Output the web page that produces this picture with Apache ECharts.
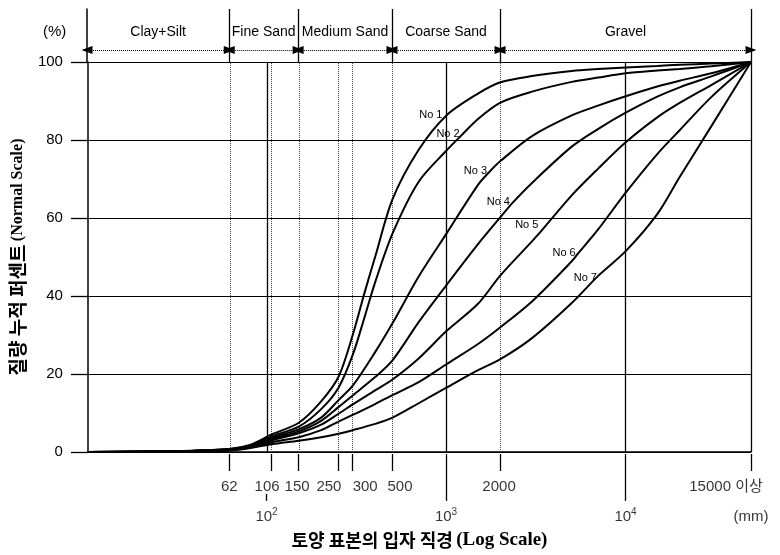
<!DOCTYPE html>
<html><head><meta charset="utf-8">
<script src="https://cdn.jsdelivr.net/npm/echarts@6/dist/echarts.min.js"></script>
<style>html,body{margin:0;padding:0;background:#fff}#c{width:780px;height:555px}</style>
</head><body><div id="c"></div>
<script>
// ---------- data ----------
const curveNames = ['No 1', 'No 2', 'No 3', 'No 4', 'No 5', 'No 6', 'No 7'];
// [particle size on the figure's log axis, cumulative mass %]
const no1 = [[10,0],[30,0.2],[62,0.8],[80,1.8],[106,4.5],[150,7.5],[200,13],[250,19.3],[300,30],[350,41],[400,50],[500,64.8],[700,77.5],[1000,86.3],[1500,91.9],[2000,94.8],[3000,96.4],[5000,97.7],[7000,98.2],[10000,98.6],[15000,99],[20000,99.3],[30000,99.6],[50000,100]];
const no2 = [[10,0],[30,0.2],[62,0.8],[80,1.6],[106,4],[150,6.5],[200,11],[250,16.5],[300,24.9],[350,34.7],[400,43.5],[500,56],[700,69.3],[1000,77.3],[1200,81],[1500,85.4],[2000,89.6],[3000,92.4],[5000,94.9],[7000,96],[10000,97.1],[15000,97.8],[20000,98.2],[30000,98.9],[50000,100]];
const no3 = [[10,0],[30,0.2],[62,0.7],[80,1.4],[106,3.6],[150,5.8],[200,8.8],[250,13.3],[300,17],[400,25.6],[500,33],[700,45],[1000,56],[1500,68.5],[1750,72],[2000,74.6],[3000,81],[5000,86.3],[7000,88.8],[10000,91.2],[15000,93.7],[20000,95.2],[30000,97.1],[50000,100]];
const no4 = [[10,0],[30,0.2],[62,0.6],[80,1.3],[106,3.3],[150,5.3],[200,8],[250,11.5],[300,14.5],[400,19.2],[500,23.5],[700,33.3],[1000,42.8],[1500,53.3],[2000,60.2],[2350,64],[3000,69],[5000,78.3],[7000,82.8],[10000,87],[15000,91.1],[20000,93.5],[30000,96.3],[50000,100]];
const no5 = [[10,0],[30,0.2],[62,0.6],[80,1.2],[106,3],[150,4.8],[200,7],[250,9.8],[300,12.2],[400,15.8],[500,18.6],[700,24],[1000,31],[1500,38],[2000,45.3],[3000,54],[3300,56.1],[5000,65.8],[7000,72.6],[10000,79.4],[15000,85.8],[20000,89.5],[30000,94.1],[50000,100]];
const no6 = [[10,0],[30,0.2],[62,0.5],[80,1.1],[106,2.5],[150,3.8],[200,5.6],[250,7.8],[300,9.5],[400,12.3],[500,14.6],[700,17.9],[1000,22.5],[1500,27.7],[2000,32],[3000,38.6],[5000,48.9],[5400,50.8],[7000,57],[10000,66.5],[15000,76.4],[20000,82.5],[30000,91],[50000,100]];
const no7 = [[10,0],[30,0.2],[62,0.4],[80,1],[106,2],[150,2.9],[200,3.8],[250,4.7],[300,5.6],[400,7.2],[500,8.8],[700,12.5],[1000,16.5],[1500,21],[2000,23.8],[3000,29.2],[5000,38.2],[7000,45.1],[10000,51.5],[15000,61],[20000,70.5],[30000,83.5],[50000,100]];
// size at which each curve carries its "No n" label
const labelSizes = [1000, 1200, 1750, 2350, 3300, 5400, 7000];

const sizeTicks = [62, 106, 150, 250, 300, 500, 2000];
const decadeTicks = [100, 1000, 10000];
const decadeLabels = ['10{s|2}', '10{s|3}', '10{s|4}'];
const endLabel = '15000 이상';
const unitLabel = '(mm)';
const classEdges = [10, 62, 150, 500, 2000, 50000];
const classNames = ['Clay+Silt', 'Fine Sand', 'Medium Sand', 'Coarse Sand', 'Gravel'];
const xMin = 10, xMax = 50000;
const yTitle = '{k|질량 누적 퍼센트} {e|(Normal Scale)}';
const xTitle = '{k|토양 표본의 입자 직경} {e|(Log Scale)}';
const pctLabel = '(%)';

// ---------- style config ----------
const SANS = "'Liberation Sans', 'Noto Sans CJK KR', sans-serif";
const KO = "'Noto Sans CJK KR', 'Liberation Sans', sans-serif";
const SERIF = "'Liberation Serif', 'DejaVu Serif', serif";
const L = {left: 87, right: 29};
const labelStyle = [
  {d: 4, o: [0, 0]}, {d: 1, o: [0, -2]}, {d: 3, o: [0, 0]}, {d: 3, o: [0, 0]},
  {d: 1, o: [0, -8]}, {d: 2, o: [0, -1]}, {d: 1, o: [0, 2]}
];
const tickLabelShift = {62: 0, 106: -4, 150: -1, 250: -9, 300: 13, 500: 8, 2000: -1};
const ARROW_Y = 0.226, SHORT = 0.243, LONG = 0.67, SUB0 = 0.57, ROW1 = 0.471, ROW2 = 0.9;

const curves = [no1, no2, no3, no4, no5, no6, no7];
const curveSeries = curves.map((d, i) => ({
  type: 'line', name: curveNames[i], xAxisIndex: 0, yAxisIndex: 0,
  smooth: 0.3, symbol: 'circle', symbolSize: 0,
  showSymbol: true, showAllSymbol: true, silent: true, z: 5,
  emphasis: {disabled: true},
  lineStyle: {color: '#000', width: 2}, itemStyle: {color: '#000'},
  data: d.map(p => p[0] === labelSizes[i] ? {
    value: p,
    label: {show: true, formatter: curveNames[i], position: 'left',
      distance: labelStyle[i].d, offset: labelStyle[i].o,
      fontSize: 11, color: '#000', fontFamily: SANS}
  } : p)
}));

const guideSeries = {
  type: 'line', xAxisIndex: 0, yAxisIndex: 0, data: [], silent: true,
  markLine: {
    symbol: 'none', silent: true, animation: false, label: {show: false},
    data: [
      ...sizeTicks.map(v => ({xAxis: v, lineStyle: {type: 'dotted', color: '#444', width: 1}})),
      ...decadeTicks.concat([xMax]).map(v => ({xAxis: v, lineStyle: {type: 'solid', color: '#000', width: 1.3}}))
    ]
  }
};

const headerSepSeries = {
  type: 'line', xAxisIndex: 1, yAxisIndex: 1, data: [], silent: true,
  markLine: {
    symbol: 'none', silent: true, animation: false, label: {show: false},
    lineStyle: {type: 'solid', color: '#000', width: 1.3},
    data: classEdges.slice(1).map(v => ({xAxis: v}))
  }
};

const headerArrowSeries = {
  type: 'line', xAxisIndex: 1, yAxisIndex: 1, data: [], silent: true,
  markLine: {
    silent: true, animation: false,
    symbol: ['triangle', 'triangle'], symbolSize: [8, 11],
    lineStyle: {type: 'dotted', color: '#000', width: 1},
    itemStyle: {color: '#000'},
    label: {show: true, position: 'insideMiddleTop', formatter: '{b}', distance: 11,
      fontSize: 14, color: '#000', fontFamily: SANS},
    data: classNames.map((n, i) => [{coord: [classEdges[i], ARROW_Y], name: n}, {coord: [classEdges[i + 1], ARROW_Y]}])
  }
};

const footerTicks = {
  type: 'line', xAxisIndex: 2, yAxisIndex: 2, data: [], silent: true,
  markLine: {
    symbol: 'none', silent: true, animation: false, label: {show: false},
    lineStyle: {type: 'solid', color: '#000', width: 1.3},
    data: [
      ...sizeTicks.concat([xMax]).map(v => [{coord: [v, 0]}, {coord: [v, SHORT]}]),
      ...decadeTicks.slice(1).map(v => [{coord: [v, 0]}, {coord: [v, LONG]}]),
      [{coord: [decadeTicks[0], SUB0]}, {coord: [decadeTicks[0], LONG]}]
    ]
  }
};

const footerLabels = {
  type: 'scatter', xAxisIndex: 2, yAxisIndex: 2, symbolSize: 0, silent: true, clip: false,
  label: {show: true, position: 'inside', formatter: '{b}', fontSize: 15, color: '#000',
    fontFamily: SANS, rich: {s: {fontSize: 10, padding: [0, 0, 9, 0], fontFamily: SANS, color: '#000'}}},
  data: [
    ...sizeTicks.map(v => ({value: [v, ROW1], name: String(v), label: {offset: [tickLabelShift[v] || 0, 0]}})),
    {value: [xMax, ROW1], name: endLabel, label: {offset: [-25, 0]}},
    ...decadeTicks.map((v, i) => ({value: [v, ROW2], name: decadeLabels[i]})),
    {value: [xMax, ROW2], name: unitLabel}
  ]
};

const hidden = {show: false};
const option = {
  animation: false,
  backgroundColor: '#fff',
  textStyle: {fontFamily: SANS, color: '#000'},
  grid: [
    {left: L.left, right: L.right, top: 62, height: 392},
    {left: L.left, right: L.right, top: 9, height: 53},
    {left: L.left, right: L.right, top: 454, height: 70}
  ],
  xAxis: [
    {type: 'log', logBase: 10, min: xMin, max: xMax, gridIndex: 0,
      axisLine: {show: true, lineStyle: {color: '#000', width: 1.5}},
      axisTick: hidden, axisLabel: hidden, splitLine: hidden,
      name: xTitle, nameLocation: 'middle', nameGap: 79,
      nameTextStyle: {rich: {
        k: {fontFamily: KO, fontSize: 18, fontWeight: 'bold', color: '#000'},
        e: {fontFamily: SERIF, fontSize: 19, fontWeight: 'bold', color: '#000'}}}},
    {type: 'log', logBase: 10, min: xMin, max: xMax, gridIndex: 1, show: false},
    {type: 'log', logBase: 10, min: xMin, max: xMax, gridIndex: 2, show: false}
  ],
  yAxis: [
    {type: 'value', min: 0, max: 100, interval: 20, gridIndex: 0,
      axisLine: {show: true, lineStyle: {color: '#000', width: 1.5}},
      axisTick: {show: true, length: 17, lineStyle: {color: '#000', width: 1.3}},
      axisLabel: {fontSize: 15, color: '#000', margin: 25, fontFamily: SANS},
      splitLine: {show: true, lineStyle: {color: '#000', width: 1.2}},
      name: yTitle, nameLocation: 'middle', nameRotate: 90, nameGap: 58,
      nameTextStyle: {rich: {
        k: {fontFamily: KO, fontSize: 19, fontWeight: 'bold', color: '#000'},
        e: {fontFamily: SERIF, fontSize: 16, fontWeight: 'bold', color: '#000'}}}},
    {type: 'value', min: 0, max: 1, gridIndex: 1,
      axisLine: {show: true, lineStyle: {color: '#000', width: 1.5}},
      axisTick: hidden, axisLabel: hidden, splitLine: hidden},
    {type: 'value', min: 0, max: 1, inverse: true, gridIndex: 2, show: false}
  ],
  graphic: [
    {type: 'text', left: 43, top: 24, style: {text: pctLabel, fontSize: 15, fill: '#000', fontFamily: SANS}}
  ],
  series: [guideSeries, headerSepSeries, headerArrowSeries, footerTicks, footerLabels, ...curveSeries]
};
const chart = echarts.init(document.getElementById('c'), null, {renderer: 'canvas'});
chart.setOption(option);
</script></body></html>
